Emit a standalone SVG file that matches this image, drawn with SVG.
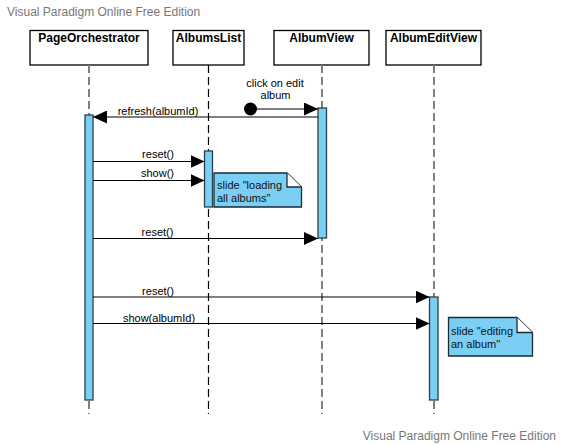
<svg xmlns="http://www.w3.org/2000/svg" width="563" height="445" viewBox="0 0 563 445">
<defs>
<marker id="arr" viewBox="0 0 14 13" refX="14" refY="6.5" markerWidth="14" markerHeight="13" markerUnits="userSpaceOnUse" orient="auto">
<path d="M0,0 L14,6.5 L0,13 Z" fill="#000"/>
</marker>
</defs>
<style>
.wm{font-family:"Liberation Sans",Arial,sans-serif;font-size:12px;fill:#777}
.hd{fill:#fff;stroke:#000;stroke-width:1.3}
.hdt{font-family:"Liberation Sans",Arial,sans-serif;font-size:12px;font-weight:bold;fill:#000;text-anchor:middle}
.ll{fill:none;stroke:#7f7f7f;stroke-width:2;stroke-dasharray:8 4}
.llb{fill:none;stroke:#000;stroke-width:1.2;stroke-dasharray:8 4}
.act{fill:#7ccff4;stroke:#2a3f4c;stroke-width:1.3}
.note{fill:#7ccff4;stroke:#1c2a33;stroke-width:1.3}
.msg{fill:none;stroke:#000;stroke-width:1.2;marker-end:url(#arr)}
.lbl{font-family:"Liberation Sans",Arial,sans-serif;font-size:11px;fill:#000;text-anchor:middle}
.nt{font-family:"Liberation Sans",Arial,sans-serif;font-size:11px;fill:#111}
</style>
<rect width="563" height="445" fill="#fff"/>
<text class="wm" x="7" y="16">Visual Paradigm Online Free Edition</text>
<text class="wm" x="556" y="440" text-anchor="end">Visual Paradigm Online Free Edition</text>

<g id="PageOrchestrator">
<rect class="hd" x="30" y="30.5" width="118" height="34.5"/>
<text class="hdt" x="89" y="42">PageOrchestrator</text>
<line class="ll" x1="89" y1="65" x2="89" y2="414"/>
<rect class="act" x="85" y="115" width="8" height="285"/>
</g>
<g id="AlbumsList">
<rect class="hd" x="173" y="30.5" width="71" height="34.5"/>
<text class="hdt" x="208.5" y="42">AlbumsList</text>
<line class="llb" x1="208.5" y1="65" x2="208.5" y2="414"/>
<rect class="act" x="204.5" y="151" width="8" height="56"/>
</g>
<g id="AlbumView">
<rect class="hd" x="274" y="30.5" width="95" height="34.5"/>
<text class="hdt" x="321.5" y="42">AlbumView</text>
<line class="ll" x1="322" y1="65" x2="322" y2="414"/>
<rect class="act" x="318" y="108" width="8.5" height="130"/>
</g>
<g id="AlbumEditView">
<rect class="hd" x="386" y="30.5" width="95" height="34.5"/>
<text class="hdt" x="433.5" y="42">AlbumEditView</text>
<line class="ll" x1="434" y1="65" x2="434" y2="414"/>
<rect class="act" x="429.5" y="297" width="8.5" height="103"/>
</g>

<g id="note-loading">
<path class="note" d="M214,173 L287,173 L301.5,187 L301.5,207 L214,207 Z"/>
<path d="M287,173 L287,187 L301.5,187" fill="#fff" stroke="#1c2a33" stroke-width="1.3"/>
<text class="nt" x="217" y="189">slide "loading</text>
<text class="nt" x="217" y="202">all albums"</text>
</g>
<g id="note-editing">
<path class="note" d="M448.5,317.5 L517,317.5 L532.5,332.5 L532.5,356 L448.5,356 Z"/>
<path d="M517,317.5 L517,332.5 L532.5,332.5" fill="#fff" stroke="#1c2a33" stroke-width="1.3"/>
<text class="nt" x="451" y="335">slide "editing</text>
<text class="nt" x="451" y="348">an album"</text>
</g>

<g id="connectors">
<circle cx="250.5" cy="109" r="6.5" fill="#000"/>
<line class="msg" x1="250.5" y1="109" x2="318" y2="109"/>
<text class="lbl" x="275" y="87">click on edit</text>
<text class="lbl" x="275.5" y="99">album</text>

<line class="msg" x1="318" y1="117" x2="93" y2="117"/>
<text class="lbl" x="158" y="114.5">refresh(albumId)</text>

<line class="msg" x1="93" y1="161.5" x2="204.5" y2="161.5"/>
<text class="lbl" x="158" y="158">reset()</text>

<line class="msg" x1="93" y1="180.5" x2="204.5" y2="180.5"/>
<text class="lbl" x="157.5" y="177">show()</text>

<line class="msg" x1="93" y1="238.5" x2="318" y2="238.5"/>
<text class="lbl" x="157.5" y="235.5">reset()</text>

<line class="msg" x1="93" y1="297" x2="429.5" y2="297"/>
<text class="lbl" x="158" y="295">reset()</text>

<line class="msg" x1="93" y1="323.5" x2="429.5" y2="323.5"/>
<text class="lbl" x="159" y="321.5">show(albumId)</text>
</g>
</svg>
